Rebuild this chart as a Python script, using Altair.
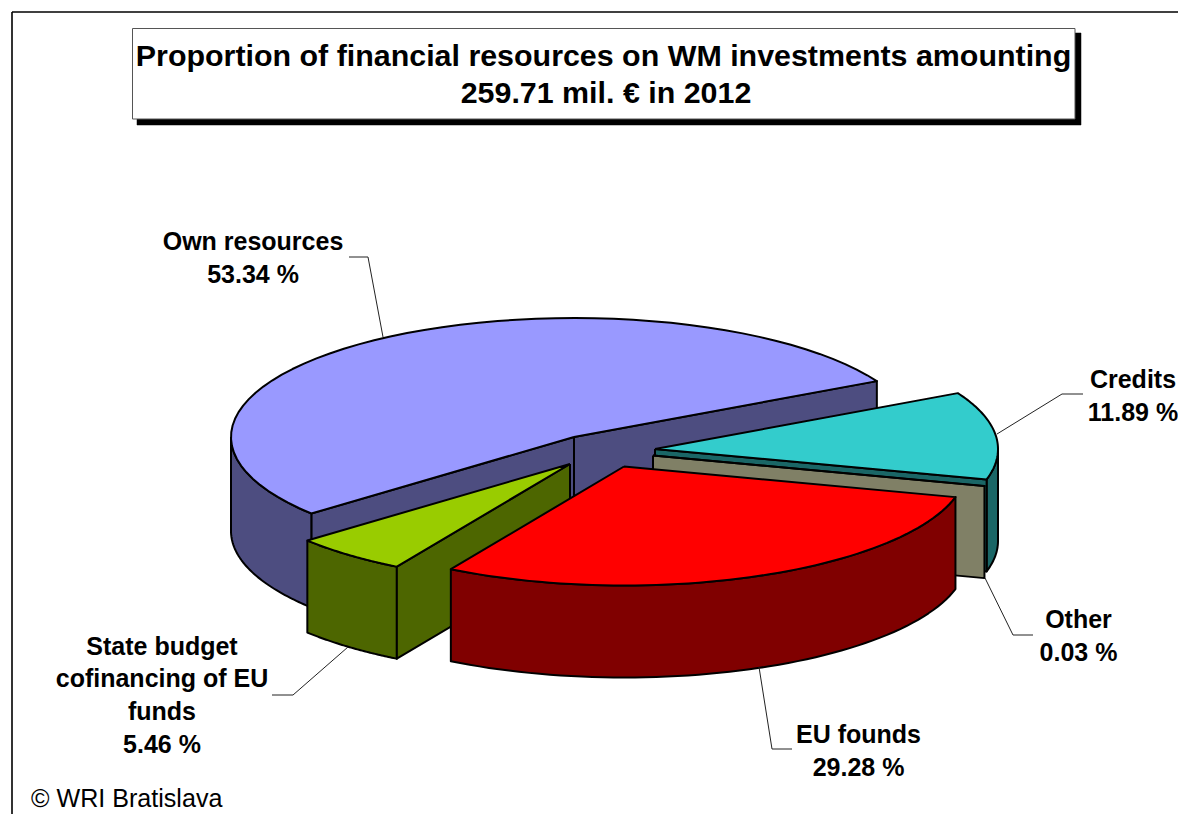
import altair as alt
import numpy as np

# Values
names = ["Own resources", "State budget cofinancing of EU funds", "EU founds", "Other", "Credits"]
shares = [53.34, 5.46, 29.28, 0.03, 11.89]
top_colors = ["#9999FF", "#99CC00", "#FF0000", "#FFFFCC", "#33CCCC"]
side_colors = ["#4D4D80", "#4D6600", "#800000", "#808066", "#1A6666"]
title_lines = ["Proportion of financial resources on WM investments amounting", "259.71 mil. \u20ac in 2012"]
label_lines = [
    ["Own resources", "53.34 %"],
    ["State budget", "cofinancing of EU", "funds", "5.46 %"],
    ["EU founds", "29.28 %"],
    ["Other", "0.03 %"],
    ["Credits", "11.89 %"],
]
credit_text = "\u00a9 WRI Bratislava"

# Pie geometry (page pixels)
W, H = 1178, 814
RX, RY = 343, 119
depths = [94, 92, 92, 92, 92]
START = 28.0
centers = [(574, 437), (570, 464), (624, 466.5), (653, 455.5), (655, 449)]
label_xy = [(253, 250), (162, 654.7), (858.5, 743), (1078.5, 628), (1133, 388)]
label_step = 32.7

leaders = [
    [(349, 257), (368, 257), (383, 337)],
    [(272, 695), (293, 695), (348, 647)],
    [(792, 749), (772, 749), (759, 667)],
    [(1033, 635), (1013, 635), (985, 578)],
    [(1083, 394), (1062, 394), (997, 434)],
]

x_s = alt.Scale(domain=[8, W], range=[0, W - 8], nice=False, zero=False)
y_s = alt.Scale(domain=[H, 8], range=[H - 8, 0], nice=False, zero=False)
X = alt.X("x:Q", scale=x_s, axis=None)
Y = alt.Y("y:Q", scale=y_s, axis=None)


def poly(points, fill, stroke="black", sw=2.0):
    pts = list(points) + [points[0]]
    vals = [{"x": float(a), "y": float(b), "i": i} for i, (a, b) in enumerate(pts)]
    return alt.Chart(alt.Data(values=vals)).mark_line(
        fill=fill, stroke=stroke, strokeWidth=sw, strokeJoin="round", clip=False
    ).encode(x=X, y=Y, order="i:Q")


def path(points, sw=1.0, color="#222222"):
    vals = [{"x": float(a), "y": float(b), "i": i} for i, (a, b) in enumerate(points)]
    return alt.Chart(alt.Data(values=vals)).mark_line(
        stroke=color, strokeWidth=sw, strokeJoin="miter"
    ).encode(x=X, y=Y, order="i:Q")


def rim(c, t0, t1, dz=0, n=60):
    ts = np.radians(np.linspace(t0, t1, n))
    return [(c[0] + RX * np.cos(t), c[1] + dz - RY * np.sin(t)) for t in ts]


def rim_pt(c, t, dz=0):
    return rim(c, t, t, dz, 1)[0]


def text(lines, x, y0, step, size, weight="bold", align="center"):
    vals = [{"x": x, "y": y0 + k * step, "t": s} for k, s in enumerate(lines)]
    return alt.Chart(alt.Data(values=vals)).mark_text(
        font="Liberation Sans", fontSize=size, fontWeight=weight, align=align,
        baseline="alphabetic", color="black"
    ).encode(x=X, y=Y, text="t:N")


angles = START + np.concatenate([[0], np.cumsum(shares)]) * 3.6
A = [(angles[i], angles[i + 1]) for i in range(5)]


def top(i):
    c = centers[i]
    return poly([c] + rim(c, *A[i]), top_colors[i])


def radial(i, t):
    c = centers[i]
    d = depths[i]
    p = rim_pt(c, t)
    return poly([c, p, (p[0], p[1] + d), (c[0], c[1] + d)], side_colors[i])


def outer(i, t0, t1):
    c = centers[i]
    return poly(rim(c, t0, t1) + rim(c, t1, t0, depths[i]), side_colors[i])


layers = []
# frame
layers.append(path([(12, H), (12, 12)], 2, "#333333"))
layers.append(path([(12, 12), (W, 12)], 1.5, "black"))
# title box
layers.append(poly([(137, 33), (1081, 33), (1081, 125), (137, 125)], "black", "black", 0.5))
layers.append(poly([(132.5, 28.5), (1075, 28.5), (1075, 119), (132.5, 119)], "white", "#555555", 1))
layers.append(text(title_lines[:1], 603.5, 65.5, 37, 30.4))
layers.append(text(title_lines[1:], 606, 102.5, 37, 30.4))
# own resources
layers += [radial(0, A[0][0]), radial(0, A[0][1]), outer(0, 180, A[0][1]), top(0)]
# credits
layers += [outer(4, 345.2, 360), radial(4, A[4][0]), top(4)]
# other
layers += [radial(3, A[3][0]), top(3)]
# state budget
layers += [outer(1, A[1][0], A[1][1]), radial(1, A[1][1]), top(1)]
# EU
layers += [outer(2, A[2][0], A[2][1]), top(2)]
# leaders and labels
for pts in leaders:
    layers.append(path(pts))
for i, lines in enumerate(label_lines):
    layers.append(text(lines, label_xy[i][0], label_xy[i][1], label_step, 25))
layers.append(text([credit_text], 31, 806.7, 0, 25.1, weight="normal", align="left"))

chart = alt.layer(*layers).properties(
    width=W - 8, height=H - 8, padding=0,
    autosize=alt.AutoSizeParams(type="none"),
).configure_view(stroke=None)

chart.save("out.html", embed_options={"renderer": "svg", "actions": False})
